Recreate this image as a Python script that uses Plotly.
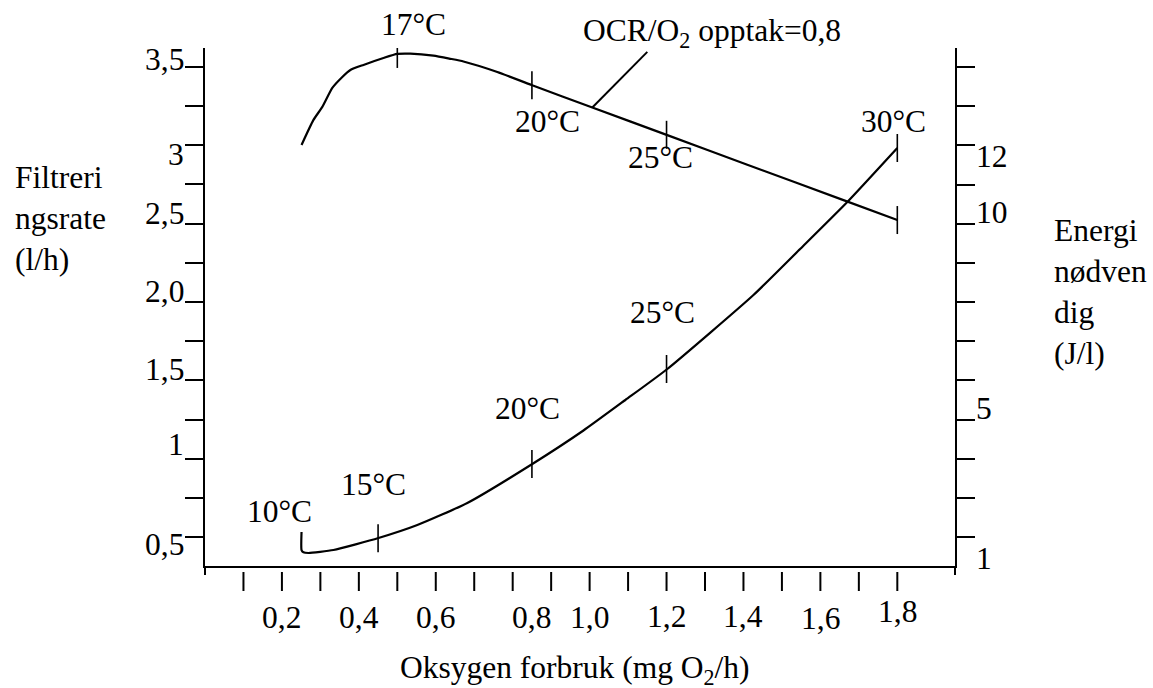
import plotly.graph_objects as go

# ---------------- data ----------------
# Upper curve: filtration rate (l/h), left axis
filt_x = [0.251, 0.282, 0.305, 0.331, 0.357, 0.378, 0.412, 0.464, 0.500, 0.534,
          0.594, 0.638, 0.672, 0.760, 0.849, 1.007, 1.202, 1.410, 1.660, 1.800]
filt_y = [3.002, 3.162, 3.245, 3.366, 3.436, 3.481, 3.513, 3.557, 3.583, 3.585,
          3.572, 3.552, 3.535, 3.468, 3.385, 3.241, 3.065, 2.876, 2.650, 2.523]
filt_mark_x = [0.50, 0.85, 1.20, 1.80]
filt_mark_y = [3.583, 3.384, 3.067, 2.523]

# Lower curve: energy needed (J/l), right axis
energy_x = [0.251, 0.251, 0.256, 0.269, 0.334, 0.451, 0.552, 0.682, 0.851, 0.984,
            1.093, 1.202, 1.426, 1.548, 1.670, 1.800]
energy_y = [2.129, 1.669, 1.610, 1.593, 1.669, 1.975, 2.307, 2.869, 3.865, 4.720,
            5.499, 6.290, 8.179, 9.360, 10.553, 11.932]
energy_mark_x = [0.45, 0.85, 1.20, 1.80]
energy_mark_y = [1.972, 3.865, 6.290, 11.932]

# Axis ticks and labels
x_tick_vals = [round(0.1 * i, 1) for i in range(1, 19)]
x_label_pos = [0.2, 0.4, 0.6, 0.85, 1.0, 1.2, 1.4, 1.6, 1.8]
x_label_text = ["0,2", "0,4", "0,6", "0,8", "1,0", "1,2", "1,4", "1,6", "1,8"]

left_tick_vals = [0.5 + 0.25 * i for i in range(13)]
left_label_vals = [3.5, 3.0, 2.5, 2.0, 1.5, 1.0, 0.5]
left_label_text = ["3,5", "3", "2,5", "2,0", "1,5", "1", "0,5"]

right_tick_vals = list(range(2, 15))
right_label_vals = [12, 10, 5, 2]
right_label_text = ["12", "10", "5", "1"]

# Curve annotations (text, x, y on left scale)
temp_labels = ["20°C", "25°C", "30°C", "10°C", "15°C", "20°C", "25°C"]
temp_label_x = [0.890, 1.184, 1.790, 0.194, 0.438, 0.838, 1.189]
temp_label_y = [3.155, 2.919, 3.155, 0.660, 0.832, 1.323, 1.936]

# Labels above the plot area (x in data units)
top_labels = ["17°C", "OCR/O<sub>2</sub> opptak=0,8"]
top_label_x = [0.542, 1.319]

# ---------------- styles ----------------
FONT = "Liberation Serif, Times New Roman, serif"
FS = 31.5
left_label_dy = [7, -9, 10, 10, 11, 14, -7]
right_label_dy = [-11, 11, 11, -21]
x_label_dy = [-51, -51, -51, -51, -51, -50, -50, -52, -45]
top_label_dy = [24, 15]

fig = go.Figure()

fig.add_trace(go.Scatter(x=filt_x, y=filt_y, mode="lines",
                         line=dict(color="black", width=2.2, shape="spline",
                                   smoothing=0.5),
                         yaxis="y", hoverinfo="skip"))
fig.add_trace(go.Scatter(x=filt_mark_x, y=filt_mark_y, mode="markers",
                         marker=dict(symbol="line-ns", size=20,
                                     line=dict(color="black", width=1.6)),
                         yaxis="y", hoverinfo="skip"))
fig.add_trace(go.Scatter(x=energy_x, y=energy_y, mode="lines",
                         line=dict(color="black", width=2.2, shape="spline",
                                   smoothing=0.5),
                         yaxis="y2", hoverinfo="skip"))
fig.add_trace(go.Scatter(x=energy_mark_x, y=energy_mark_y, mode="markers",
                         marker=dict(symbol="line-ns", size=20,
                                     line=dict(color="black", width=1.6)),
                         yaxis="y2", hoverinfo="skip"))

annotations = []
for v, t, dy in zip(left_label_vals, left_label_text, left_label_dy):
    annotations.append(dict(xref="paper", x=0, xshift=-19, xanchor="right",
                            yref="y", y=v, yanchor="middle", yshift=dy,
                            text=t, showarrow=False))
for v, t, dy in zip(right_label_vals, right_label_text, right_label_dy):
    annotations.append(dict(xref="paper", x=1, xshift=19, xanchor="left",
                            yref="y2", y=v, yanchor="middle", yshift=dy,
                            text=t, showarrow=False))
for v, t, dy in zip(x_label_pos, x_label_text, x_label_dy):
    annotations.append(dict(xref="x", x=v, xanchor="center",
                            yref="paper", y=0, yanchor="middle", yshift=dy,
                            text=t, showarrow=False))
for t, x, y in zip(temp_labels, temp_label_x, temp_label_y):
    annotations.append(dict(xref="x", x=x, yref="y", y=y, text=t,
                            xanchor="center", yanchor="middle", showarrow=False))
for t, x, dy in zip(top_labels, top_label_x, top_label_dy):
    annotations.append(dict(xref="x", x=x, yref="paper", y=1, yshift=dy,
                            text=t, xanchor="center", yanchor="middle",
                            showarrow=False))

annotations.append(dict(xref="paper", x=0.5, xshift=-5, yref="paper", y=0,
                        yshift=-104, text="Oksygen forbruk (mg O<sub>2</sub>/h)",
                        xanchor="center", yanchor="middle", showarrow=False))
annotations.append(dict(xref="paper", x=0, xshift=-192, xanchor="left",
                        yref="paper", y=1, yshift=-170, yanchor="middle",
                        text="Filtreri<br>ngsrate<br>(l/h)", align="left",
                        showarrow=False))
annotations.append(dict(xref="paper", x=1, xshift=97, xanchor="left",
                        yref="paper", y=1, yshift=-244, yanchor="middle",
                        text="Energi<br>nødven<br>dig<br>(J/l)", align="left",
                        showarrow=False))

shapes = []
for v in x_tick_vals:
    shapes.append(dict(type="line", xref="x", x0=v, x1=v, yref="paper",
                       ysizemode="pixel", yanchor=0, y0=-6, y1=-25,
                       line=dict(color="black", width=2)))
for px in (0, 1):
    shapes.append(dict(type="line", xref="paper", x0=px, x1=px, yref="paper",
                       ysizemode="pixel", yanchor=0, y0=0, y1=-9,
                       line=dict(color="black", width=2)))
# leader line for OCR label
shapes.append(dict(type="line", xref="x", yref="y", x0=1.007, y0=3.241,
                   x1=1.150, y1=3.596, line=dict(color="black", width=2)))

axis_common = dict(showgrid=False, zeroline=False, showline=True,
                   linecolor="black", linewidth=2, ticks="outside",
                   ticklen=18, tickwidth=2, tickcolor="black",
                   showticklabels=False)

fig.update_layout(
    width=1153, height=688,
    margin=dict(l=205, r=198, t=48, b=122, pad=0),
    paper_bgcolor="white", plot_bgcolor="white",
    showlegend=False,
    font=dict(family=FONT, size=FS, color="black"),
    xaxis=dict(range=[0, 1.95], showgrid=False, zeroline=False, showline=True,
               linecolor="black", linewidth=2, ticks="", showticklabels=False),
    yaxis=dict(range=[0.315, 3.621], tickvals=left_tick_vals, **axis_common),
    yaxis2=dict(range=[1.261, 14.485], tickvals=right_tick_vals,
                overlaying="y", side="right", anchor="x", **axis_common),
    annotations=annotations,
    shapes=shapes,
)

fig.write_html(
    "out.html",
    config={"displayModeBar": False},
    post_script="document.body.style.margin='0';document.body.style.padding='0';"
)
